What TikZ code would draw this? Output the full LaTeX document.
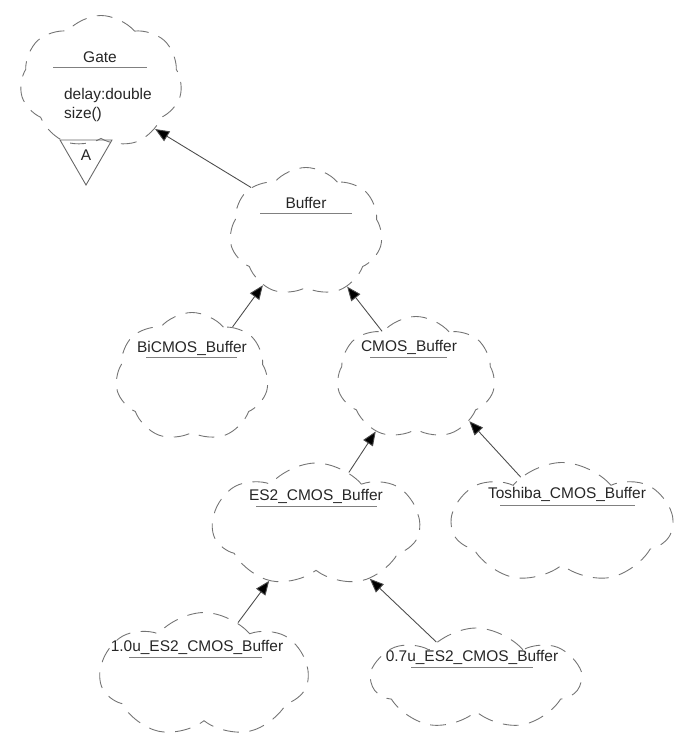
\documentclass[tikz,border=0pt]{standalone}
\usepackage{fontspec}
\setmainfont{Liberation Sans}
\usetikzlibrary{shapes.symbols,shapes.geometric,arrows.meta}
\tikzset{
  booch/.style={cloud, cloud puffs=7, cloud puff arc=100, cloud ignores aspect,
    draw=black!55, dash pattern=on 9pt off 6pt, line width=0.5pt, inner sep=0pt},
  cname/.style={font=\fontsize{8.8}{11.3}\selectfont, text=black!85, inner sep=1pt},
  rule/.style={draw=black!50, line width=0.5pt},
  isa/.style={draw=black!70, line width=0.5pt, -{Triangle[length=8pt,width=6.5pt,fill=black]}}
}
\begin{document}
\begin{tikzpicture}[x=0.02cm,y=-0.02cm]
\useasboundingbox (0,0) rectangle (696,740);
% class clouds
\foreach \k/\x/\y/\w/\h in {gate/101/82/162/133, buffer/306/232/153/129, bicmos/192/377/153/129,
    cmos/416/378/158/123, es2/316/525/207/124, toshiba/562/523/220/121,
    es2-10u/204/675/208/125, es2-07u/476/679/208/102}
    \node[booch, minimum width=\w*0.02cm, minimum height=\h*0.02cm] (\k) at (\x,\y) {};
% class names
\foreach \k/\x/\y/\t in {gate/100/57/Gate, buffer/306/203/Buffer, bicmos/192/348/BiCMOS\_Buffer,
    cmos/409/347/CMOS\_Buffer, es2/316/496/ES2\_CMOS\_Buffer, toshiba/567/494/Toshiba\_CMOS\_Buffer,
    es2-10u/197/647/1.0u\_ES2\_CMOS\_Buffer, es2-07u/472/657/0.7u\_ES2\_CMOS\_Buffer}
    \node[cname] (\k-name) at (\x,\y) {\t};
\foreach \y/\a/\b in {67/53/147, 213/260/352, 357/146/237, 357/370/447,
    506/256/377, 505/500/635, 657/129/262, 667/411/533}
    \draw[rule] (\a,\y) -- (\b,\y);
\node[cname, anchor=west, align=left] (gate-attrs) at (62,105) {delay:double\\size()};
% abstract adornment
\node[draw=black!60, line width=0.5pt, regular polygon, regular polygon sides=3,
    shape border rotate=180, minimum size=1.2cm, inner sep=0pt, cname] (gate-adorn) at (86,155) {A};
% inheritance
\foreach \a/\i/\b/\j in {buffer/141/gate/319, bicmos/51/buffer/231, cmos/126/buffer/307,
    es2/58/cmos/233, toshiba/132/cmos/321, es2-10u/57/es2/230, es2-07u/137/es2/315}
    \draw[isa] (\a.\i) -- (\b.\j);
\end{tikzpicture}
\end{document}
